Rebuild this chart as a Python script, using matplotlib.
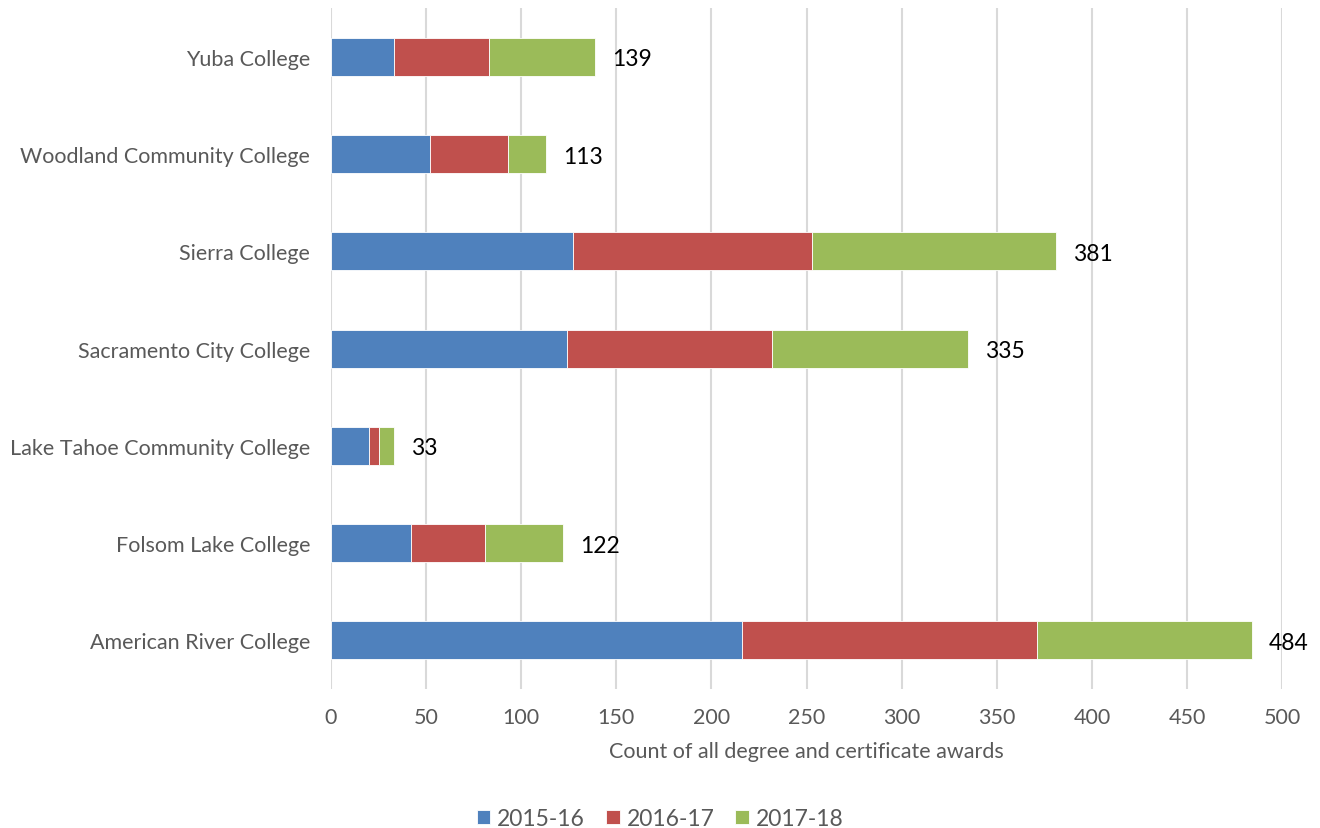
import numpy as np
import matplotlib.pyplot as plt

colleges = ["American River College", "Folsom Lake College", "Lake Tahoe Community College",
            "Sacramento City College", "Sierra College", "Woodland Community College", "Yuba College"]
y2015 = [216, 42, 20, 124, 127, 52, 33]
y2016 = [155, 39, 5, 108, 126, 41, 50]
y2017 = [113, 41, 8, 103, 128, 20, 56]
totals = [484, 122, 33, 335, 381, 113, 139]

plt.rcParams['font.family'] = ['Lato', 'DejaVu Sans']

fig = plt.figure(figsize=(13.2, 8.29), dpi=100)
ax = fig.add_axes([0.2508, 0.1677, 0.7205, 0.821])

y = np.arange(len(colleges))
h = 0.39
b1 = np.array(y2015)
b2 = b1 + np.array(y2016)
ax.barh(y, y2015, height=h, color="#4F81BD", edgecolor="white", linewidth=0.6, label="2015-16", zorder=3)
ax.barh(y, y2016, left=b1, height=h, color="#C0504D", edgecolor="white", linewidth=0.6, label="2016-17", zorder=3)
ax.barh(y, y2017, left=b2, height=h, color="#9BBB59", edgecolor="white", linewidth=0.6, label="2017-18", zorder=3)

for i, t in enumerate(totals):
    ax.text(t + 9, y[i] - 0.02, str(t), va="center", ha="left", fontsize=16.5, color="black")

ax.set_xlim(0, 500)
ax.set_ylim(-0.5, 6.5)
ax.set_xticks(np.arange(0, 501, 50))
ax.set_yticks(y)
ax.set_yticklabels(colleges)
ax.tick_params(axis="both", length=0, labelsize=15.5, colors="#595959")
ax.tick_params(axis="x", pad=13)
ax.tick_params(axis="y", pad=15)
ax.grid(axis="x", color="#d9d9d9", linewidth=1.5, zorder=0)
for s in ax.spines.values():
    s.set_visible(False)
ax.set_xlabel("Count of all degree and certificate awards", fontsize=15.5, color="#595959", labelpad=10)

fig.legend(loc="lower center", bbox_to_anchor=(0.5, -0.026), ncol=3, frameon=False,
           fontsize=16.5, handlelength=0.6, handleheight=0.6, handletextpad=0.3,
           columnspacing=0.9, labelcolor="#595959")

fig.savefig("out.png", dpi=100)
